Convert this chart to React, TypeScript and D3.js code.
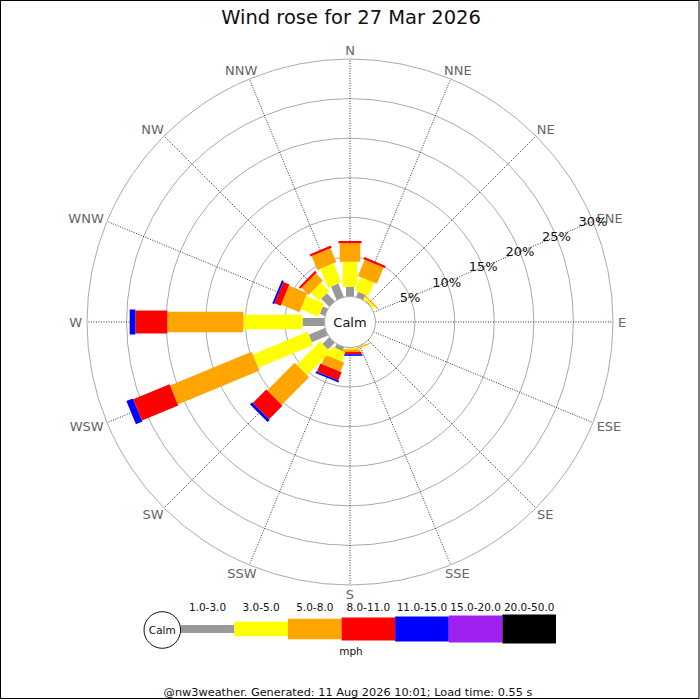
import React from "react";
import * as d3 from "d3";

const title = "Wind rose for 27 Mar 2026";
const footer = "@nw3weather. Generated: 11 Aug 2026 10:01; Load time: 0.55 s";
const directions = ["N", "NNE", "NE", "ENE", "E", "ESE", "SE", "SSE", "S", "SSW", "SW", "WSW", "W", "WNW", "NW", "NNW"];
const speedBins = ["1.0-3.0", "3.0-5.0", "5.0-8.0", "8.0-11.0", "11.0-15.0", "15.0-20.0", "20.0-50.0"];
const binColors = ["#999999", "#ffff00", "#ffa500", "#ff0000", "#0000ff", "#a020f0", "#000000"];
const ringTicks = [5, 10, 15, 20, 25, 30];

// percentages per direction (N..NNW) for each speed bin
const s1to3 = [1.24, 0.7, 0.1, 0, 0, 0, 0, 0.05, 0.1, 0.53, 1.2, 2.21, 2.78, 0.69, 1.43, 1.83];
const s3to5 = [3.15, 1.83, 0.3, 0, 0, 0, 0, 0.1, 0.15, 1.26, 4.17, 7.49, 7.47, 2.47, 1.48, 2.61];
const s5to8 = [2.33, 2.23, 0.15, 0, 0, 0, 0, 0.15, 0.3, 1.25, 4.92, 11.16, 9.6, 2.51, 1.26, 1.88];
const s8to11 = [0.29, 0.29, 0, 0, 0, 0, 0, 0, 0.3, 1.12, 2.4, 4.96, 4.04, 0.82, 0.29, 0.3];
const s11to15 = [0, 0, 0, 0, 0, 0, 0, 0, 0.2, 0.23, 0.38, 0.88, 0.72, 0.25, 0, 0];
const s15to20 = [0, 0, 0, 0, 0, 0, 0, 0, 0, 0, 0, 0, 0, 0, 0, 0];
const s20to50 = [0, 0, 0, 0, 0, 0, 0, 0, 0, 0, 0, 0, 0, 0, 0, 0];

const series = [s1to3, s3to5, s5to8, s8to11, s11to15, s15to20, s20to50];
const barWidths = [8, 14.5, 20.5, 23, 25, 27, 29];

const FONT = "DejaVu Sans, sans-serif";

let measureCtx: CanvasRenderingContext2D | null = null;
function textWidth(s: string, size: number) {
  if (typeof document !== "undefined") {
    if (!measureCtx) measureCtx = document.createElement("canvas").getContext("2d");
    if (measureCtx) {
      measureCtx.font = `${size}px DejaVu Sans`;
      return measureCtx.measureText(s).width;
    }
  }
  return s.length * size * 0.7;
}

export default function App() {
  const W = 700, H = 700;
  const cx = 350, cy = 322;
  const r = d3.scaleLinear().domain([0, 30]).range([25.5, 263]);
  const angle = d3.scaleBand<string>().domain(directions).range([0, 360]);
  const dirAngle = (d: string) => (angle(d) as number);
  const rad = (deg: number) => (deg * Math.PI) / 180;

  const stacked = directions.map((d, i) => {
    const vals = series.map((s) => s[i]);
    const cum = d3.cumsum(vals);
    return vals.map((v, k) => ({ dir: d, k, v, start: k === 0 ? 0 : cum[k - 1], end: cum[k] }));
  });

  const lx = d3.scaleBand<string>().domain(speedBins).range([180.7, 556]);
  const legendY = 629;
  const labelR = 268;

  return (
    <svg width={W} height={H} style={{ position: "fixed", left: 0, top: 0, background: "#fff" }} fontFamily={FONT}>
      <rect x={0} y={0} width={W} height={H} fill="#fff" />
      <rect x={0.5} y={0.5} width={698.5} height={698} fill="none" stroke="#000" strokeWidth={1} />
      <text x={351} y={24} textAnchor="middle" fontSize={19.5} fill="#111">{title}</text>

      {ringTicks.map((t) => (
        <circle key={t} cx={cx} cy={cy} r={r(t)} fill="none" stroke="#aaaaaa" strokeWidth={1} />
      ))}
      {directions.map((d) => {
        const a = rad(dirAngle(d));
        return (
          <line key={d}
            x1={cx + r(0) * Math.sin(a)} y1={cy - r(0) * Math.cos(a)}
            x2={cx + r(30) * Math.sin(a)} y2={cy - r(30) * Math.cos(a)}
            stroke="#333" strokeWidth={1} strokeDasharray="1,1.5" />
        );
      })}

      {stacked.map((segs) =>
        segs.filter((s) => s.v > 0).map((s) => {
          const w = barWidths[s.k];
          const r0 = r(s.start), r1 = r(s.end);
          return (
            <rect key={s.dir + s.k}
              transform={`translate(${cx},${cy}) rotate(${dirAngle(s.dir)})`}
              x={-w / 2} y={-r1} width={w} height={r1 - r0}
              fill={binColors[s.k]} />
          );
        })
      )}

      <circle cx={cx} cy={cy} r={r(0)} fill="#fff" stroke="#aaaaaa" strokeWidth={1} />
      <text x={cx} y={cy} dy="0.36em" textAnchor="middle" fontSize={13} fill="#111">Calm</text>

      {directions.map((d) => {
        const a = rad(dirAngle(d));
        const hw = textWidth(d, 13) / 2;
        const hh = 4;
        const x = cx + labelR * Math.sin(a) + hw * Math.sin(a);
        const y = cy - labelR * Math.cos(a) - hh * Math.cos(a);
        return (
          <text key={d} x={x} y={y} dy="0.36em"
            textAnchor="middle" fontSize={13} fill="#666">{d}</text>
        );
      })}

      {ringTicks.map((t) => {
        const a = rad(67.5);
        return (
          <text key={t} x={cx + r(t) * Math.sin(a)} y={cy - r(t) * Math.cos(a)} dy="0.36em"
            textAnchor="middle" fontSize={13} fill="#111">{t}%</text>
        );
      })}

      {speedBins.map((b, k) => {
        const x = lx(b) as number;
        const bw = lx.bandwidth();
        const h = barWidths[k];
        return (
          <g key={b}>
            <rect x={x} y={legendY - h / 2} width={bw} height={h} fill={binColors[k]} />
            <text x={x + bw / 2} y={610.5} textAnchor="middle" fontSize={10.5} fill="#111">{b}</text>
          </g>
        );
      })}
      <circle cx={162.3} cy={630} r={18.3} fill="#fff" stroke="#111" strokeWidth={1} />
      <text x={162.3} y={630} dy="0.36em" textAnchor="middle" fontSize={10.5} fill="#111">Calm</text>
      <text x={351} y={654.5} textAnchor="middle" fontSize={10.5} fill="#111">mph</text>

      <text x={348} y={696} textAnchor="middle" fontSize={11.3} fill="#111">{footer}</text>
    </svg>
  );
}
